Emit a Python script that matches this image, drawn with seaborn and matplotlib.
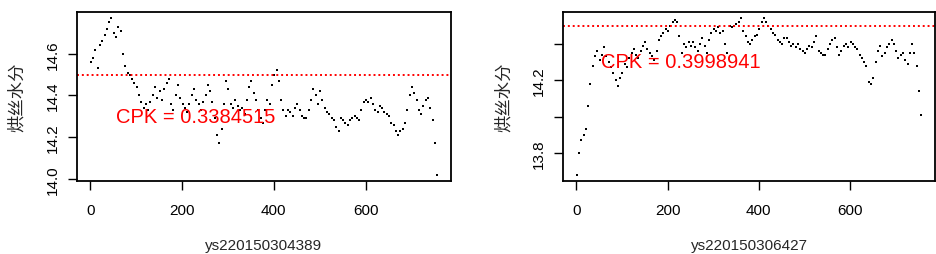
import numpy as np
import pandas as pd
import matplotlib
matplotlib.use('Agg')
import matplotlib.pyplot as plt
import seaborn as sns

# sample index step used when reading the curves off the picture
step = 5

# 烘丝水分, batch ys220150304389 (every 5th sample)
moist_389 = [14.56, 14.58, 14.62, 14.53, 14.64, 14.66, 14.69, 14.72, 14.75, 14.77,
             14.70, 14.68, 14.73, 14.71, 14.60, 14.54, 14.51, 14.50, 14.48, 14.46,
             14.44, 14.40, 14.37, 14.34, 14.36, 14.33, 14.37, 14.40, 14.44, 14.39,
             14.42, 14.38, 14.43, 14.46, 14.48, 14.36, 14.33, 14.40, 14.45, 14.39,
             14.36, 14.34, 14.32, 14.36, 14.40, 14.43, 14.38, 14.36, 14.33, 14.37,
             14.40, 14.45, 14.42, 14.37, 14.29, 14.21, 14.17, 14.24, 14.36, 14.47,
             14.43, 14.36, 14.34, 14.38, 14.35, 14.33, 14.34, 14.31, 14.38, 14.44,
             14.47, 14.41, 14.38, 14.33, 14.29, 14.27, 14.33, 14.38, 14.36, 14.45,
             14.50, 14.52, 14.47, 14.38, 14.33, 14.30, 14.33, 14.32, 14.30, 14.34,
             14.36, 14.33, 14.30, 14.29, 14.29, 14.33, 14.38, 14.43, 14.40, 14.36,
             14.42, 14.38, 14.34, 14.32, 14.31, 14.29, 14.28, 14.25, 14.23, 14.29,
             14.28, 14.27, 14.26, 14.28, 14.29, 14.30, 14.29, 14.28, 14.33, 14.37,
             14.38, 14.37, 14.39, 14.36, 14.33, 14.32, 14.35, 14.34, 14.32, 14.31,
             14.30, 14.27, 14.26, 14.23, 14.21, 14.23, 14.24, 14.27, 14.33, 14.40,
             14.44, 14.41, 14.38, 14.33, 14.31, 14.35, 14.38, 14.39, 14.34, 14.28,
             14.17, 14.02]

# 烘丝水分, batch ys220150306427
moist_427 = [13.68, 13.80, 13.87, 13.90, 13.93, 14.06, 14.18, 14.28, 14.33, 14.36,
             14.31, 14.34, 14.38, 14.33, 14.30, 14.27, 14.24, 14.20, 14.17, 14.21,
             14.24, 14.29, 14.27, 14.32, 14.35, 14.37, 14.34, 14.32, 14.36, 14.39,
             14.41, 14.37, 14.35, 14.33, 14.31, 14.36, 14.42, 14.44, 14.46, 14.48,
             14.47, 14.50, 14.52, 14.53, 14.52, 14.44, 14.35, 14.40, 14.38, 14.41,
             14.39, 14.41, 14.38, 14.36, 14.40, 14.43, 14.39, 14.35, 14.42, 14.46,
             14.48, 14.47, 14.49, 14.46, 14.47, 14.40, 14.35, 14.50, 14.49, 14.50,
             14.51, 14.52, 14.54, 14.47, 14.44, 14.41, 14.40, 14.42, 14.44, 14.45,
             14.48, 14.52, 14.54, 14.52, 14.50, 14.48, 14.46, 14.45, 14.42, 14.41,
             14.40, 14.43, 14.43, 14.41, 14.39, 14.40, 14.38, 14.40, 14.37, 14.36,
             14.35, 14.37, 14.39, 14.38, 14.41, 14.44, 14.36, 14.35, 14.34, 14.34,
             14.37, 14.40, 14.42, 14.43, 14.38, 14.34, 14.36, 14.39, 14.40, 14.38,
             14.41, 14.40, 14.38, 14.37, 14.34, 14.32, 14.30, 14.28, 14.19, 14.18,
             14.21, 14.30, 14.36, 14.39, 14.33, 14.35, 14.38, 14.40, 14.42, 14.40,
             14.36, 14.32, 14.34, 14.35, 14.31, 14.29, 14.35, 14.40, 14.35, 14.28,
             14.14, 14.01]

batches = ['ys220150304389', 'ys220150306427']
cpk = [0.3384515, 0.3998941]
usl = 14.5
ylab = '烘丝水分'
yticks = [[14.0, 14.2, 14.4, 14.6], [13.8, 14.0, 14.2, 14.4]]
yticklabels = [['14.0', '14.2', '14.4', '14.6'], ['13.8', '', '14.2', '']]

sns.set_theme(style='white')
plt.rcParams['font.family'] = ['Liberation Sans', 'Noto Sans CJK SC']

fig = plt.figure(figsize=(9.37, 2.55), dpi=100)
boxes = [[77/937, 1-182/255, 374/937, 169/255],
         [563/937, 1-182/255, 372/937, 169/255]]
ylab_x = [-0.139, -0.137]

for i, vals in enumerate([moist_389, moist_427]):
    df = pd.DataFrame({'idx': np.arange(len(vals)) * step + 1, 'val': vals})
    ax = fig.add_axes(boxes[i])
    sns.scatterplot(data=df, x='idx', y='val', ax=ax, color='black',
                    s=4, marker='s', linewidth=0)
    ax.margins(0.04)
    ax.axhline(usl, color='red', lw=1.4, dashes=(1, 1.5))
    ax.text(230, 14.3, 'CPK = ' + str(cpk[i]), color='red', fontsize=14.5,
            ha='center', va='center')
    ax.set_xticks([0, 200, 400, 600])
    ax.set_yticks(yticks[i])
    ax.set_yticklabels(yticklabels[i], rotation=90, va='center')
    ax.tick_params(direction='out', length=6.5, width=1, labelsize=11,
                   left=True, bottom=True, colors='black')
    ax.tick_params(axis='x', pad=9)
    ax.tick_params(axis='y', pad=6)
    for sp in ax.spines.values():
        sp.set_color('black')
        sp.set_linewidth(1.3)
    ax.set_xlabel(batches[i], fontsize=11)
    ax.xaxis.set_label_coords(0.5, -0.34)
    ax.set_ylabel(ylab, fontsize=12.5)
    ax.yaxis.set_label_coords(ylab_x[i], 0.5)

fig.savefig('out.png', dpi=100, facecolor='white')
